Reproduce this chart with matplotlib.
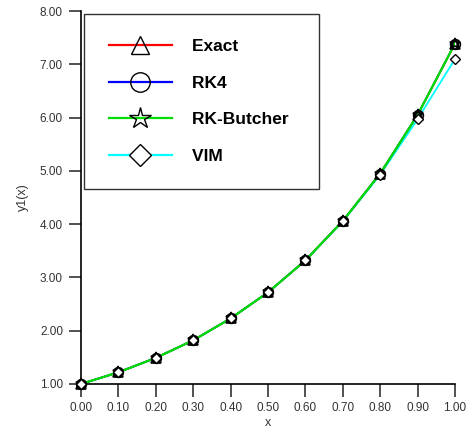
import matplotlib
matplotlib.use("Agg")
import matplotlib.pyplot as plt
from matplotlib.lines import Line2D

plt.rcParams['font.family'] = ['Liberation Sans', 'DejaVu Sans']

x = [0.0, 0.1, 0.2, 0.3, 0.4, 0.5, 0.6, 0.7, 0.8, 0.9, 1.0]
exact = [1.00, 1.22, 1.49, 1.82, 2.23, 2.72, 3.32, 4.06, 4.95, 6.05, 7.39]
rk4 = [1.00, 1.22, 1.49, 1.82, 2.23, 2.72, 3.32, 4.06, 4.95, 6.05, 7.39]
rk_butcher = [1.00, 1.22, 1.49, 1.82, 2.23, 2.72, 3.32, 4.06, 4.95, 6.05, 7.39]
vim = [1.00, 1.22, 1.49, 1.82, 2.23, 2.72, 3.32, 4.05, 4.93, 5.97, 7.10]

labels = ["Exact", "RK4", "RK-Butcher", "VIM"]
xticks = [0.0, 0.1, 0.2, 0.3, 0.4, 0.5, 0.6, 0.7, 0.8, 0.9, 1.0]
yticks = [1, 2, 3, 4, 5, 6, 7, 8]

fig = plt.figure(figsize=(4.66, 4.34), dpi=100)
ax = fig.add_axes([81/466, 1-384/434, 374/466, 373/434])

ax.plot(x, vim, color='#00ffff', lw=1.3, zorder=2)
ax.plot(x, exact, color='#ff0000', lw=1.3, zorder=3)
ax.plot(x, rk4, color='#0000ff', lw=1.3, zorder=3)
ax.plot(x, rk_butcher, color='#00e000', lw=1.6, zorder=4)

ms = 7
ax.plot(x, exact, ls='none', marker='^', ms=ms, mfc='none', mec='black', mew=1.2, zorder=5, clip_on=False)
ax.plot(x, rk4, ls='none', marker='o', ms=ms, mfc='none', mec='black', mew=1.2, zorder=5, clip_on=False)
ax.plot(x, rk_butcher, ls='none', marker='*', ms=ms+1, mfc='none', mec='black', mew=1.2, zorder=5, clip_on=False)
ax.plot(x, vim, ls='none', marker='D', ms=ms-1.5, mfc='white', mec='black', mew=1.0, zorder=5, clip_on=False)

ax.set_xlim(0, 1)
ax.set_ylim(1, 8)
ax.set_xticks(xticks)
ax.set_xticklabels([f"{v:.2f}" for v in xticks])
ax.set_yticks(yticks)
ax.set_yticklabels([f"{v:.2f}" for v in yticks])
for s in ['top', 'right']:
    ax.spines[s].set_visible(False)
for s in ['left', 'bottom']:
    ax.spines[s].set_linewidth(1.2)
ax.tick_params(direction='out', length=9, width=1.2, color='#333333',
               labelsize=8.5, labelcolor='#333333', pad=4)
ax.set_xlabel("x", fontsize=9, color='#333333', labelpad=2)
ax.set_ylabel("y1(x)", fontsize=9, color='#333333', labelpad=8)

handles = [
    Line2D([], [], color='#ff0000', lw=1.6, marker='^', ms=13, mfc='none', mec='black', mew=1.0),
    Line2D([], [], color='#0000ff', lw=1.6, marker='o', ms=14, mfc='none', mec='black', mew=1.0),
    Line2D([], [], color='#00e000', lw=1.6, marker='*', ms=16, mfc='none', mec='black', mew=1.0),
    Line2D([], [], color='#00ffff', lw=1.6, marker='D', ms=11, mfc='white', mec='black', mew=1.0),
]
leg = ax.legend(handles, [l + " " for l in labels], loc='upper left', bbox_to_anchor=(0.008, 0.992),
                borderaxespad=0, frameon=True, fancybox=False, edgecolor='black',
                prop={'weight': 'bold', 'size': 12.5}, handlelength=3.6,
                handletextpad=1.2, borderpad=1.45, labelspacing=1.23)
leg.get_frame().set_linewidth(1.0)

fig.savefig("out.png", dpi=100)
